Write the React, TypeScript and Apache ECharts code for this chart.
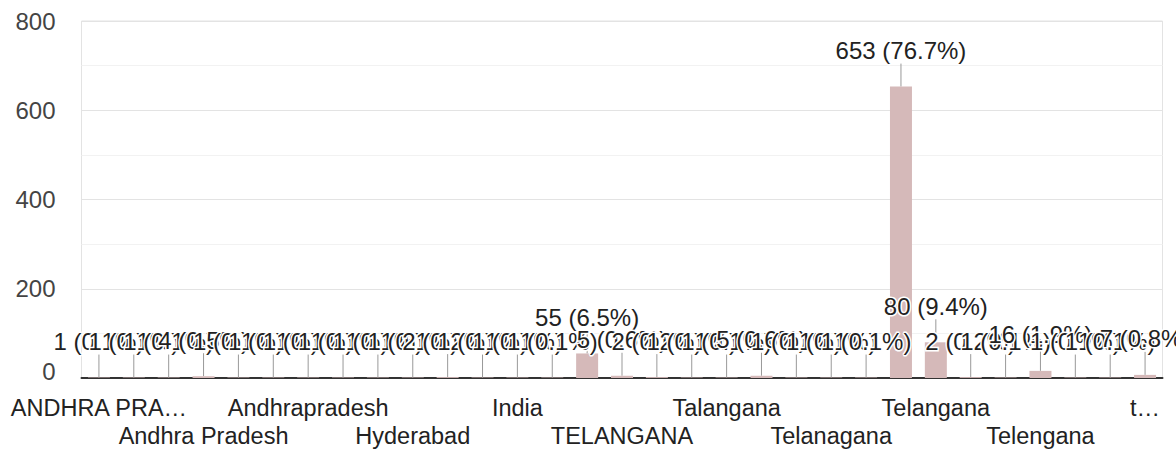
import React, { useEffect, useRef } from "react";
import * as echarts from "echarts";

const categories = [
  "ANDHRA PRADESH", "ANDHRAPRADESH", "Adilabad", "Andhra Pradesh", "Andhra Pradesh ",
  "Andhra pradesh", "Andhrapradesh", "Bhadradri Kothagudem", "Hyd", "Hyderabad",
  "Hyderabad, Telangana", "INDIA", "India", "Khammam", "TELANGANA",
  "TELANGANA ", "TELANGANA STATE", "TS", "Talangana", "Telagana",
  "Telamgana", "Telanagana", "Telangaana", "Telangana", "Telangana ",
  "Telangana State", "Telangana state", "Telengana", "Telengana ", "Thelangana",
  "telangana",
];

const counts = [
  1, 1, 1, 4, 1, 1, 1, 1, 1, 1,
  2, 1, 1, 1, 55, 5, 2, 1, 1, 5,
  1, 1, 1, 653, 80, 2, 1, 16, 1, 1,
  7,
];

const tickLabels = [
  "ANDHRA PRA…", "", "", "Andhra Pradesh", "", "", "Andhrapradesh", "", "", "Hyderabad",
  "", "", "India", "", "", "TELANGANA", "", "", "Talangana", "",
  "", "Telanagana", "", "", "Telangana", "", "", "Telengana", "", "",
  "t…",
];

const yTicks = [0, 200, 400, 600, 800];

const FONT = "'Liberation Sans', Arial, sans-serif";

export default function App() {
  const ref = useRef<HTMLDivElement>(null);
  useEffect(() => {
    if (!ref.current) return;
    const chart = echarts.init(ref.current, undefined, { renderer: "svg" });
    const total = counts.reduce((a, b) => a + b, 0);
    chart.setOption({
      animation: false,
      textStyle: { fontFamily: FONT },
      grid: {
        left: 81.5,
        right: 13.5,
        top: 21,
        bottom: 78,
        show: true,
        borderColor: "#e3e3e3",
        borderWidth: 1,
        outerBoundsMode: "none",
      },
      xAxis: {
        type: "category",
        data: categories,
        axisTick: { show: false },
        axisLine: { show: true, lineStyle: { color: "#333", width: 2 } },
        axisLabel: {
          interval: 0,
          fontSize: 23.5,
          lineHeight: 28,
          color: "#222",
          margin: 16,
          fontFamily: FONT,
          formatter: (_v: string, i: number) =>
            (Math.floor(i / 3) % 2 === 1 ? "\n" : "") + tickLabels[i],
        },
        splitLine: { show: false },
      },
      yAxis: {
        type: "value",
        min: yTicks[0],
        max: yTicks[yTicks.length - 1],
        interval: 200,
        axisLine: { show: false },
        axisTick: { show: false },
        axisLabel: {
          fontSize: 24,
          color: "#444",
          margin: 26,
          fontFamily: FONT,
          formatter: (v: number) => (v === 0 ? "{z|0}" : String(v)),
          rich: { z: { fontSize: 24, color: "#444", padding: [0, 0, 14, 0], fontFamily: FONT } },
        },
        splitLine: { show: true, lineStyle: { color: "#e3e3e3", width: 1 } },
        minorTick: { show: false, splitNumber: 2 },
        minorSplitLine: { show: true, lineStyle: { color: "#f2f2f2", width: 1 } },
      },
      series: [
        {
          type: "custom",
          z: 1,
          silent: true,
          data: counts.map((v, i) => [i, v]),
          renderItem: (_params: any, api: any) => {
            const p = api.coord([api.value(0), api.value(1)]);
            return {
              type: "line",
              shape: { x1: p[0], y1: p[1], x2: p[0], y2: p[1] - 23 },
              style: { stroke: "#999", lineWidth: 1 },
            };
          },
        },
        {
          type: "bar",
          z: 2,
          data: counts,
          barWidth: 22,
          itemStyle: { color: "#d5b9b9" },
          label: {
            show: true,
            position: "top",
            distance: 24,
            fontSize: 24,
            color: "#222",
            fontFamily: FONT,
            textBorderColor: "#fff",
            textBorderWidth: 3,
            formatter: (p: any) => `${p.value} (${((p.value / total) * 100).toFixed(1)}%)`,
          },
        },
      ],
    });
    return () => chart.dispose();
  }, []);
  return (
    <div
      ref={ref}
      style={{ position: "absolute", left: 0, top: 0, width: 1176, height: 456 }}
    />
  );
}
